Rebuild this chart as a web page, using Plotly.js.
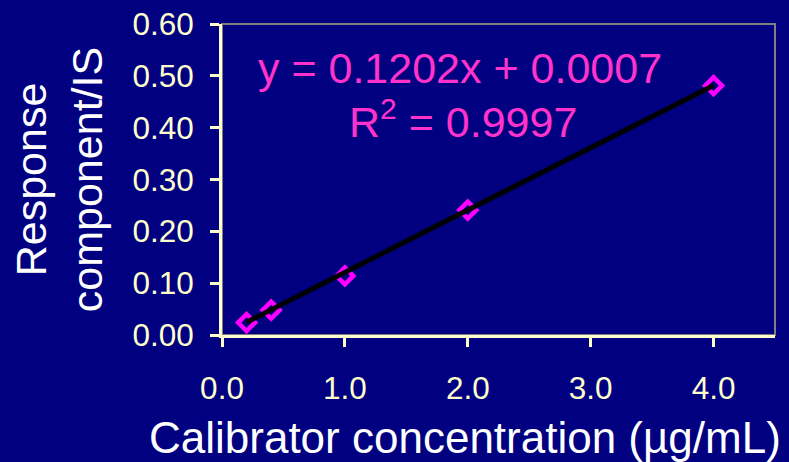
<!DOCTYPE html>
<html>
<head>
<meta charset="utf-8">
<script src="https://cdn.plot.ly/plotly-3.0.1.min.js"></script>
<style>html,body{margin:0;padding:0;background:#000080;}#chart{width:789px;height:462px;}</style>
</head>
<body>
<div id="chart"></div>
<script>
// Calibration data
var concentration = [0.2, 0.4, 1.0, 2.0, 4.0];
var responseRatio = [0.024, 0.048, 0.114, 0.241, 0.481];
// Linear trendline end points (y = 0.1202x + 0.0007)
var trendX = [0.2, 4.0];
var trendY = [0.0247, 0.4815];
var equationText = "y = 0.1202x + 0.0007";
var r2Text = "R<sup>2</sup> = 0.9997";
var xTickVals = [0, 1, 2, 3, 4];
var xTickText = ["0.0", "1.0", "2.0", "3.0", "4.0"];
var yTickVals = [0, 0.1, 0.2, 0.3, 0.4, 0.5, 0.6];
var yTickText = ["0.00", "0.10", "0.20", "0.30", "0.40", "0.50", "0.60"];

var axisColor = "#FFFFCC";
var font = "Liberation Sans, Arial, sans-serif";

var traces = [
  {
    x: concentration, y: responseRatio, type: "scatter", mode: "markers",
    marker: {symbol: "diamond-open", size: 13, color: "#FF00FF", line: {color: "#FF00FF", width: 4.5}},
    showlegend: false, cliponaxis: false
  },
  {
    x: trendX, y: trendY, type: "scatter", mode: "lines",
    line: {color: "#000000", width: 5}, showlegend: false
  }
];

var layout = {
  width: 789, height: 462,
  paper_bgcolor: "#000080", plot_bgcolor: "#000080",
  margin: {l: 222, r: 14, t: 24, b: 127, pad: 0},
  font: {family: font, color: "#FFFFFF"},
  xaxis: {
    range: [0, 4.5], tickvals: xTickVals, ticktext: xTickText,
    showgrid: false, zeroline: false, showline: true, linecolor: axisColor, linewidth: 3,
    ticks: "outside", ticklen: 9, tickwidth: 3, tickcolor: axisColor,
    tickfont: {family: font, size: 31.5, color: axisColor}, ticklabelstandoff: 14,
    fixedrange: true
  },
  yaxis: {
    range: [0, 0.6], tickvals: yTickVals, ticktext: yTickText,
    showgrid: false, zeroline: false, showline: true, linecolor: axisColor, linewidth: 3,
    ticks: "outside", ticklen: 9, tickwidth: 3, tickcolor: axisColor,
    tickfont: {family: font, size: 31.5, color: axisColor}, ticklabelstandoff: 10,
    title: {text: "Response<br>component/IS", font: {family: font, size: 43, color: "#FFFFFF"}, standoff: 17},
    fixedrange: true
  },
  shapes: [
    {type: "rect", xref: "paper", yref: "paper", x0: 0, x1: 1, y0: 0, y1: 1,
     line: {color: "#808080", width: 2}, layer: "below"}
  ],
  annotations: [
    {text: equationText, xref: "paper", yref: "paper", x: 0.43, y: 0.858, xanchor: "center", yanchor: "middle",
     showarrow: false, font: {family: font, size: 43, color: "#FF33CC"}},
    {text: r2Text, xref: "paper", yref: "paper", x: 0.435, y: 0.693, xanchor: "center", yanchor: "middle",
     showarrow: false, font: {family: font, size: 43, color: "#FF33CC"}},
    {text: "Calibrator concentration (µg/mL)", xref: "paper", yref: "paper", x: 0.44, y: -0.33,
     xanchor: "center", yanchor: "middle", showarrow: false,
     font: {family: font, size: 44, color: "#FFFFFF"}}
  ]
};

Plotly.newPlot("chart", traces, layout, {displayModeBar: false, staticPlot: true});
</script>
</body>
</html>
